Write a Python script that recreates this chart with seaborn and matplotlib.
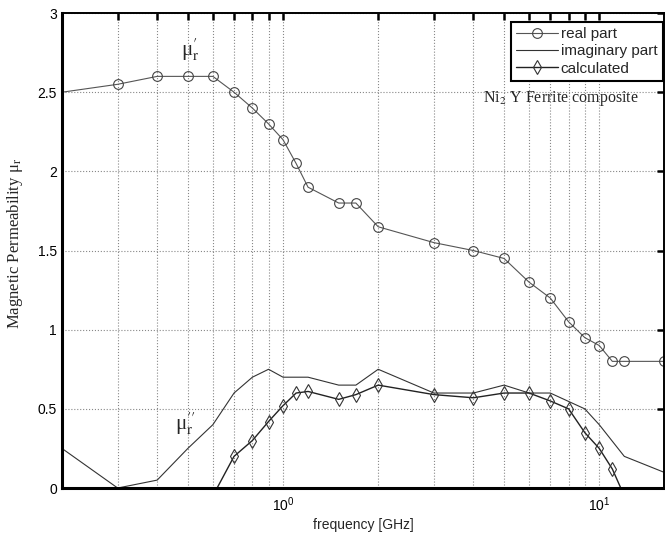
import numpy as np
import pandas as pd
import seaborn as sns
import matplotlib
matplotlib.use("Agg")
import matplotlib.pyplot as plt
from matplotlib.ticker import LogLocator, NullFormatter, FixedLocator

# real part (circles)
f_real = [0.2, 0.3, 0.4, 0.5, 0.6, 0.7, 0.8, 0.9, 1.0, 1.1, 1.2, 1.5, 1.7, 2.0, 3.0, 4.0, 5.0,
          6.0, 7.0, 8.0, 9.0, 10.0, 11.0, 12.0, 16.0]
mu_real = [2.5, 2.55, 2.6, 2.6, 2.6, 2.5, 2.4, 2.3, 2.2, 2.05, 1.9, 1.8, 1.8, 1.65, 1.55, 1.5, 1.45,
           1.3, 1.2, 1.05, 0.95, 0.9, 0.8, 0.8, 0.8]

# imaginary part (plain line)
f_imag = [0.2, 0.3, 0.4, 0.5, 0.6, 0.7, 0.8, 0.9, 1.0, 1.2, 1.5, 1.7, 2.0, 3.0, 4.0, 5.0,
          6.0, 7.0, 9.0, 10.0, 12.0, 16.0]
mu_imag = [0.25, 0.0, 0.05, 0.25, 0.4, 0.6, 0.7, 0.75, 0.7, 0.7, 0.65, 0.65, 0.75, 0.6, 0.6, 0.65,
           0.6, 0.6, 0.5, 0.4, 0.2, 0.1]

# calculated (diamonds)
f_calc = [0.6, 0.7, 0.8, 0.9, 1.0, 1.1, 1.2, 1.5, 1.7, 2.0, 3.0, 4.0, 5.0, 6.0, 7.0, 8.0,
          9.0, 10.0, 11.0, 12.0]
mu_calc = [-0.05, 0.2, 0.3, 0.42, 0.52, 0.6, 0.61, 0.56, 0.59, 0.65, 0.59, 0.57, 0.6, 0.6, 0.55, 0.5,
           0.35, 0.25, 0.12, -0.05]

sns.set_style("white")
plt.rcParams['font.family'] = ['Liberation Sans', 'DejaVu Sans']
plt.rcParams['mathtext.fontset'] = 'stix'

fig = plt.figure(figsize=(6.65, 5.37), dpi=100)
ax = fig.add_axes([0.0932, 0.0912, 0.905, 0.8845])

sns.lineplot(x=f_real, y=mu_real, ax=ax, color='#555555', lw=0.8, marker='o', ms=7,
             markerfacecolor='none', markeredgecolor='#444444', markeredgewidth=0.8,
             markevery=list(range(1, len(f_real))), label='real part', sort=False)
sns.lineplot(x=f_imag, y=mu_imag, ax=ax, color='#333333', lw=0.8, label='imaginary part', sort=False)
sns.lineplot(x=f_calc, y=mu_calc, ax=ax, color='#222222', lw=1.0, marker='d', ms=7,
             markerfacecolor='none', markeredgecolor='#333333', markeredgewidth=0.8,
             label='calculated', sort=False)

ax.set_xscale('log')
ax.set_xlim(0.2, 16)
ax.set_ylim(0, 3)
ax.set_yticks([0, 0.5, 1, 1.5, 2, 2.5, 3])
ax.set_yticklabels(['0', '0.5', '1', '1.5', '2', '2.5', '3'])
ax.xaxis.set_major_locator(FixedLocator([1, 10]))
ax.xaxis.set_minor_locator(LogLocator(base=10, subs=np.arange(2, 10)))
ax.xaxis.set_minor_formatter(NullFormatter())

ax.grid(True, which='both', axis='x', color='#888888', linestyle=':', linewidth=0.8)
ax.grid(True, which='major', axis='y', color='#888888', linestyle=':', linewidth=0.8)

ax.tick_params(which='both', direction='in', top=True, right=True, length=5, width=1.8,
               labelsize=10, colors='black')
ax.tick_params(axis='x', pad=5)
for s in ['left', 'bottom']:
    ax.spines[s].set_linewidth(2.2)
    ax.spines[s].set_color('black')
for s in ['top', 'right']:
    ax.spines[s].set_linewidth(1.4)
    ax.spines[s].set_color('black')

ax.set_xlabel('frequency [GHz]', fontsize=10, labelpad=3)
ax.set_ylabel(r'Magnetic Permeability μ$_{\mathrm{r}}$', fontsize=12, family='Liberation Serif')
ax.yaxis.set_label_coords(-0.062, 0.515)

ax.text(0.51, 2.77, r"μ$^{\prime}_{\mathrm{r}}$", fontsize=15, family='Liberation Serif',
        ha='center', va='center')
ax.text(0.49, 0.41, r"μ$^{\prime\prime}_{\mathrm{r}}$", fontsize=15, family='Liberation Serif',
        ha='center', va='center')
ax.text(0.70, 0.82, r'Ni$_2$ Y Ferrite composite', transform=ax.transAxes, fontsize=11.5,
        family='Liberation Serif', ha='left', va='center')

leg = ax.legend(loc='upper right', bbox_to_anchor=(0.998, 0.981), borderaxespad=0,
                fancybox=False, framealpha=1, edgecolor='black', fontsize=11,
                handlelength=2.7, handletextpad=0.2, borderpad=0.35, labelspacing=0.2)
leg.get_frame().set_linewidth(1.5)

fig.savefig('out.png', dpi=100)
